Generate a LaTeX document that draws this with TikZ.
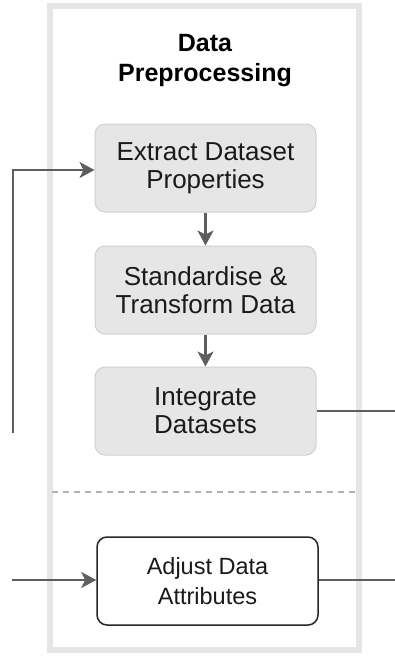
\documentclass[tikz,border=0pt]{standalone}
\usepackage{fontspec}
\setmainfont{Liberation Sans}
\usetikzlibrary{arrows.meta}
\definecolor{framegray}{HTML}{E6E6E6}
\definecolor{boxfill}{HTML}{E6E6E6}
\definecolor{boxline}{HTML}{D0D0D0}
\definecolor{linkgray}{HTML}{5E5E5E}
\definecolor{txt}{HTML}{1A1A1A}
\begin{document}
\begin{tikzpicture}[x=1pt,y=-1pt,
  stagebox/.style={draw=boxline,fill=boxfill,rounded corners=10pt,line width=1pt,
    minimum width=221pt,minimum height=88pt,align=center,text=txt,
    font=\fontsize{26}{28}\selectfont},
  attrbox/.style={draw=black!85,fill=white,rounded corners=10pt,line width=1.5pt,
    minimum width=221pt,minimum height=88pt,align=center,text=txt,
    font=\fontsize{23.5}{30}\selectfont},
  link/.style={draw=linkgray,line width=2.2pt},
  linkarrow/.style={link,-{Stealth[length=15pt,width=16pt,inset=4pt]}}]
\useasboundingbox (0,0) rectangle (395,656);
% stage frame
\draw[framegray,line width=6pt] (50,6) rectangle (359,650);
\node[font=\bfseries\fontsize{25}{30}\selectfont,align=center,text=black] (title) at (205,61) {Data\\Preprocessing};
% processing steps
\node[stagebox] (extract) at (205.5,168) {Extract Dataset\\Properties};
\node[stagebox] (standard) at (205.5,290) {Standardise \&\\Transform Data};
\node[stagebox] (integrate) at (205.5,411) {Integrate\\Datasets};
\draw[linkarrow] (extract) -- (standard);
\draw[linkarrow] (standard) -- (integrate);
% section divider
\draw[gray!60,line width=1.5pt,dash pattern=on 6pt off 5pt] (52,492) -- (357,492);
\node[attrbox] (adjust) at (207.5,581) {Adjust Data\\Attributes};
% external links
\coordinate (feedbot) at (13,433);
\coordinate (feedtop) at (13,170);
\coordinate (intout) at (395,411);
\coordinate (adjin) at (12,580);
\coordinate (adjout) at (395,580);
\draw[linkarrow] (feedbot) -- (feedtop) -- (extract.west |- feedtop);
\draw[link] (integrate.east) -- (intout);
\draw[linkarrow] (adjin) -- (adjust.west |- adjin);
\draw[link] (adjust.east |- adjout) -- (adjout);
\end{tikzpicture}
\end{document}
